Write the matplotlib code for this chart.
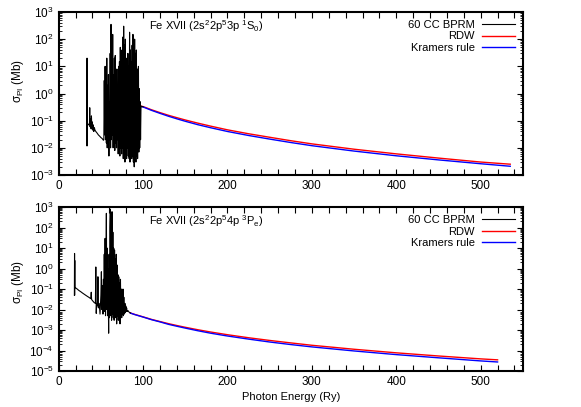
"""Fe XVII photoionization cross sections: BPRM resonances vs RDW and Kramers."""

import matplotlib

matplotlib.use("Agg")
import matplotlib.pyplot as plt
from matplotlib.ticker import LogLocator, MultipleLocator, NullFormatter

# ---- top panel: 2s2 2p5 3p 1S0 -------------------------------------------
E_BPRM_TOP = [
    33.5, 33.6, 33.7, 33.8, 33.9, 34.5, 35.5, 36.5, 36.8, 37.1,
    37.5, 38.0, 38.4, 38.8, 39.3, 39.8, 40.3, 41.0, 41.6, 42.3,
    43.0, 44.0, 45.5, 47.0, 48.5, 50.0, 51.5, 52.5, 53.0,
    53.5, 54.0, 54.5, 55.0, 55.5, 56.0, 56.5, 57.0, 57.5, 58.0,
    58.5, 59.0, 59.5, 60.0, 60.5, 61.0, 61.5, 62.0, 62.5, 63.0,
    63.5, 64.0, 64.5, 65.0, 65.5, 66.0, 66.5, 67.0, 67.5, 68.0,
    68.5, 69.0, 69.5, 70.0, 70.5, 71.0, 71.5, 72.0, 72.5, 73.0,
    73.5, 74.0, 74.5, 75.0, 75.5, 76.0, 76.5, 77.0, 77.5, 78.0,
    78.5, 79.0, 79.5, 80.0, 80.5, 81.0, 81.5, 82.0, 82.5, 83.0,
    83.5, 84.0, 84.5, 85.0, 85.5, 86.0, 86.5, 87.0, 87.5, 88.0,
    88.5, 89.0, 89.5, 90.0, 90.5, 91.0, 91.5, 92.0, 92.5, 93.0,
    93.5, 94.0, 94.5, 95.0, 95.5, 96.0, 96.5, 97.0, 97.5, 98.0,
    99.0, 100.0,
]
SIG_BPRM_TOP = [
    0.012, 20, 0.012, 12, 0.08, 0.075, 0.07, 0.08, 0.3, 0.06,
    0.07, 0.12, 0.05, 0.15, 0.05, 0.09, 0.045, 0.07, 0.04, 0.055,
    0.045, 0.04, 0.035, 0.03, 0.027, 0.024, 0.022, 0.02, 0.019,
    0.02, 3, 0.03, 10, 0.02, 1, 0.015, 20, 0.01, 2,
    0.02, 5, 0.005, 0.5, 0.02, 30, 0.01, 350, 0.02, 40,
    0.03, 150, 0.01, 5, 0.02, 20, 0.008, 25, 0.015, 3,
    0.01, 8, 0.02, 2, 0.006, 10, 0.01, 15, 0.005, 50,
    0.01, 8, 0.006, 40, 0.01, 120, 0.004, 300, 0.008, 60,
    0.003, 100, 0.006, 20, 0.004, 8, 0.01, 30, 0.005, 10,
    0.004, 180, 0.003, 40, 0.006, 15, 0.004, 60, 0.005, 150,
    0.003, 80, 0.002, 100, 0.004, 30, 0.003, 40, 0.005, 8,
    0.004, 3, 10, 0.007, 1.5, 0.01, 0.5, 0.02, 0.3, 0.34,
    0.33, 0.325,
]
E_SMOOTH_TOP = [98, 100, 110, 120, 130, 140, 150, 165, 180, 200, 225, 250,
                275, 300, 350, 400, 450, 500, 535]
SIG_RDW_TOP = [0.34, 0.33, 0.252, 0.198, 0.158, 0.129, 0.106, 0.081, 0.063,
               0.046, 0.033, 0.0245, 0.0183, 0.0140, 0.0089, 0.0060, 0.0042,
               0.0030, 0.0025]
SIG_KRAM_TOP = [0.33, 0.32, 0.240, 0.186, 0.146, 0.117, 0.095, 0.071, 0.055,
                0.040, 0.0285, 0.021, 0.0157, 0.0120, 0.0076, 0.0051, 0.0036,
                0.0026, 0.0021]

# ---- bottom panel: 2s2 2p5 4p 3P -----------------------------------------
E_BPRM_BOT = [
    18.6, 18.8, 18.9, 19.0, 19.1, 20, 22, 24, 26, 28,
    30, 32, 34, 36, 38.0, 38.6, 39.0, 40.5, 42.0, 43.5,
    44.0, 44.5, 45.0, 46.0, 46.5, 47.0, 48.0, 49.0, 50.0, 50.6,
    51.2, 52.0, 52.5, 53.0, 53.5, 54.0, 54.5, 55.0, 55.5, 56.0,
    56.5, 57.0, 57.5, 58.0, 58.5, 59.2, 59.7, 60.2, 60.7, 61.2,
    61.7, 62.2, 62.7, 63.2, 63.7, 64.2, 64.7, 65.2, 65.7, 66.2,
    66.7, 67.2, 67.7, 68.2, 68.7, 69.2, 69.7, 70.2, 70.7, 71.2,
    71.7, 72.2, 72.7, 73.2, 73.7, 74.2, 74.7, 75.2, 75.7, 76.2,
    76.7, 77.2, 77.7, 78.5, 79.0, 79.5, 80.0, 80.5, 81.0, 82.0,
    83.0, 84.0, 85.0,
]
SIG_BPRM_BOT = [
    0.05, 5.5, 0.05, 2.5, 0.12, 0.115, 0.1, 0.085, 0.075, 0.065,
    0.057, 0.05, 0.044, 0.039, 0.034, 0.07, 0.031, 0.026, 0.022, 0.02,
    1.2, 0.0065, 0.02, 0.015, 0.4, 0.012, 0.02, 0.006, 0.05, 0.7,
    0.01, 0.15, 0.006, 0.3, 0.01, 5, 0.008, 30, 0.005, 2,
    500, 0.01, 10, 0.005, 1, 0.0007, 5, 0.004, 100, 800,
    0.005, 200, 0.003, 600, 0.006, 60, 0.004, 10, 0.003, 8,
    0.008, 3, 0.004, 5, 0.002, 1.5, 0.005, 0.5, 0.003, 0.4,
    0.006, 0.2, 0.002, 0.3, 0.005, 0.1, 0.004, 0.08, 0.006, 0.1,
    0.005, 0.04, 0.006, 0.02, 0.007, 0.015, 0.008, 0.012, 0.008, 0.009,
    0.0078, 0.0072, 0.0068,
]
E_SMOOTH_BOT = [85, 90, 100, 110, 120, 130, 140, 150, 165, 180, 200, 225,
                250, 275, 300, 350, 400, 450, 500, 520]
SIG_RDW_BOT = [0.0068, 0.0058, 0.0044, 0.0033, 0.0026, 0.00205, 0.00166,
               0.00136, 0.00103, 8.0e-4, 5.9e-4, 4.2e-4, 3.1e-4, 2.35e-4,
               1.8e-4, 1.15e-4, 7.7e-5, 5.4e-5, 3.9e-5, 3.5e-5]
SIG_KRAM_BOT = [0.0067, 0.0057, 0.0043, 0.0032, 0.0025, 0.0019, 0.00153,
                0.00124, 9.2e-4, 7.0e-4, 5.1e-4, 3.6e-4, 2.6e-4, 1.95e-4,
                1.5e-4, 9.5e-5, 6.3e-5, 4.4e-5, 3.1e-5, 2.75e-5]

TITLES = [r"Fe XVII (2s$^2$2p$^5$3p $^1$S$_0$)", r"Fe XVII (2s$^2$2p$^5$4p $^3$P$_e$)"]
YLIMS = [(1e-3, 1e3), (1e-5, 1e3)]
YLABEL_Y = [0.58, 0.545]

plt.rcParams["font.family"] = ["Liberation Sans", "DejaVu Sans"]
plt.rcParams["mathtext.fontset"] = "custom"
plt.rcParams["mathtext.rm"] = "Liberation Sans"
plt.rcParams["mathtext.it"] = "Liberation Sans:italic"
plt.rcParams["mathtext.default"] = "regular"
plt.rcParams["font.size"] = 8

fig = plt.figure(figsize=(5.81, 4.07), dpi=100)
ax_top = fig.add_axes([0.101, 0.570, 0.799, 0.4005])
ax_bot = fig.add_axes([0.101, 0.0885, 0.799, 0.4025])

panels = [
    (ax_top, E_BPRM_TOP, SIG_BPRM_TOP, E_SMOOTH_TOP, SIG_RDW_TOP, SIG_KRAM_TOP),
    (ax_bot, E_BPRM_BOT, SIG_BPRM_BOT, E_SMOOTH_BOT, SIG_RDW_BOT, SIG_KRAM_BOT),
]

for i, (ax, eb, sb, es, sr, sk) in enumerate(panels):
    ax.plot(es, sr, color="#ff0000", lw=1.0, label="RDW", zorder=2)
    ax.plot(es, sk, color="#0000ff", lw=1.0, label="Kramers rule", zorder=2)
    ax.plot(eb, sb, color="black", lw=0.8, label="60 CC BPRM", zorder=3)
    ax.set_yscale("log")
    ax.set_xlim(0, 550)
    ax.set_ylim(*YLIMS[i])
    ax.xaxis.set_major_locator(MultipleLocator(100))
    ax.xaxis.set_minor_locator(MultipleLocator(20))
    ax.yaxis.set_major_locator(LogLocator(base=10, numticks=20))
    ax.yaxis.set_minor_locator(LogLocator(base=10, subs=range(2, 10), numticks=20))
    ax.yaxis.set_minor_formatter(NullFormatter())
    ax.tick_params(which="both", direction="in", top=True, right=True, labelsize=8.5)
    ax.tick_params(which="major", length=4, width=0.8)
    ax.tick_params(which="minor", length=2, width=0.6)
    ax.tick_params(axis="x", which="minor", length=4, width=0.8)
    for sp in ax.spines.values():
        sp.set_linewidth(1.5)
    ax.set_ylabel(r"$\sigma_{PI}$ (Mb)", fontsize=8.5)
    ax.yaxis.set_label_coords(-0.07, YLABEL_Y[i])
    ax.text(0.195, 0.89, TITLES[i], transform=ax.transAxes, fontsize=8)

    handles, labels = ax.get_legend_handles_labels()
    order = [2, 0, 1]
    ax.legend([handles[k] for k in order], [labels[k] for k in order],
              loc="upper right", frameon=False, markerfirst=False, fontsize=8,
              handlelength=3.0, handletextpad=0.6, labelspacing=0.15,
              borderaxespad=0.3)

ax_bot.set_xlabel("Photon Energy (Ry)", fontsize=8, labelpad=3)

fig.savefig("out.png", dpi=100)
